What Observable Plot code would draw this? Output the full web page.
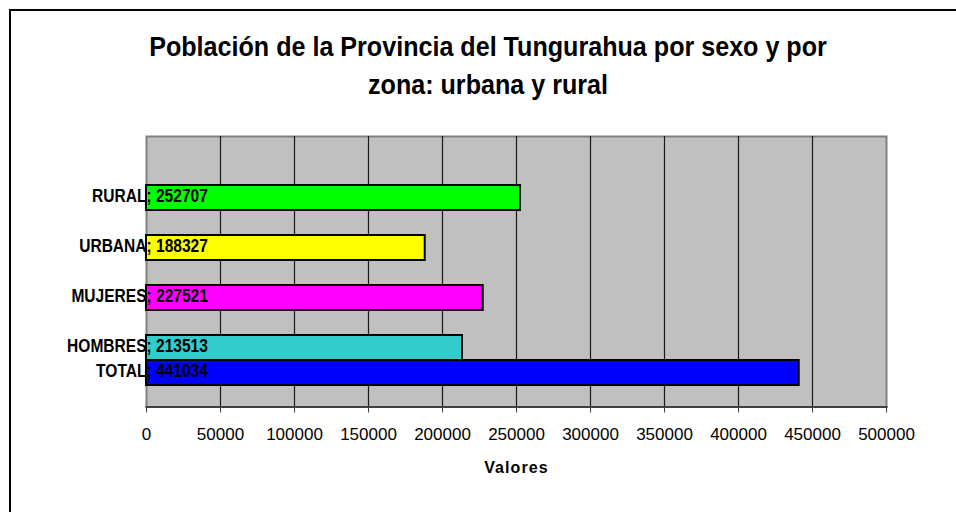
<!DOCTYPE html>
<html>
<head>
<meta charset="utf-8">
<script src="https://cdn.jsdelivr.net/npm/d3@7"></script>
<script src="https://cdn.jsdelivr.net/npm/@observablehq/plot@0.6"></script>
<style>
  html, body { margin: 0; padding: 0; background: #fff; }
  #wrap { position: relative; width: 956px; height: 512px; overflow: hidden; background: #fff; }
  #border { position: absolute; left: 9px; top: 9px; width: 1200px; height: 1200px;
            border-left: 2px solid #000; border-top: 2px solid #000; }
  #chart { position: absolute; left: 0; top: 0; }
  #title { position: absolute; left: 0; top: 28px; width: 976px; text-align: center;
           font-family: "Liberation Sans", Arial, sans-serif;
           font-weight: bold; font-size: 27px; line-height: 38px; color: #000;
           transform: scaleX(0.93); transform-origin: 488px 0; }
</style>
</head>
<body>
<div id="wrap">
  <div id="border"></div>
  <div id="chart"></div>
  <div id="title">Población de la Provincia del Tungurahua por sexo y por<br>zona: urbana y rural</div>
</div>
<script>
const categories = ["RURAL", "URBANA", "MUJERES", "HOMBRES", "TOTAL"];
const values = [252707, 188327, 227521, 213513, 441034];
const barColors = ["#00ff00", "#ffff00", "#ff00ff", "#33cccc", "#0000ff"];
const xTicks = [0, 50000, 100000, 150000, 200000, 250000, 300000, 350000, 400000, 450000, 500000];
const axisTitle = "Valores";

const data = categories.map((c, i) => ({cat: c, value: values[i], color: barColors[i]}));
// band slots: empty gaps between the first bars, none between HOMBRES and TOTAL
const slots = categories.flatMap((c, i) => i < 3 ? [c, "gap" + i] : [c]);

const font = "'Liberation Sans', Arial, sans-serif";
const condense = 0.84;

const chart = Plot.plot({
  width: 956,
  height: 512,
  marginLeft: 146,
  marginRight: 70,
  marginTop: 136,
  marginBottom: 105.5,
  style: {background: "transparent", fontFamily: font, color: "#000"},
  x: {domain: [0, 500000], axis: null},
  y: {domain: slots, padding: 0, range: [181.5, 389], axis: null},
  color: {type: "identity"},
  marks: [
    Plot.frame({fill: "#c0c0c0", stroke: "#808080", strokeWidth: 2}),
    Plot.gridX(xTicks.slice(1, -1), {stroke: "#1a1a1a", strokeOpacity: 1, strokeWidth: 1.2}),
    Plot.barX(data, {x: "value", y: "cat", fill: "color", stroke: "#000", strokeWidth: 2}),
    Plot.frame({anchor: "bottom", stroke: "#404040", strokeWidth: 2}),
    Plot.axisX(xTicks, {tickFormat: d3.format("d"), tickSize: 6, tickPadding: 15, fontSize: 17,
      stroke: "#404040", fill: "#000", label: null}),
    Plot.text(data, {x: 0, y: "cat", text: d => d.cat + "; " + d.value, textAnchor: "start", dy: -2,
      fontWeight: "bold", fontSize: 18.5, fill: "#000"}),
    Plot.text([axisTitle], {frameAnchor: "bottom", text: d => d, dy: 66,
      fontWeight: "bold", fontSize: 16, fill: "#000"})
  ]
});
document.getElementById("chart").appendChild(chart);

// condense the bold bar labels and shift each so the category name ends at the bar base
chart.querySelectorAll('g[aria-label="text"] text').forEach(t => {
  const s = t.textContent;
  if (s === axisTitle) {
    t.setAttribute("letter-spacing", "1.1");
    return;
  }
  const cat = categories.find(c => s.startsWith(c + ";"));
  const w = t.getComputedTextLength();
  const prefix = t.getSubStringLength(0, cat.length);
  t.setAttribute("textLength", (w * condense).toFixed(1));
  t.setAttribute("lengthAdjust", "spacingAndGlyphs");
  t.setAttribute("dx", (-prefix * condense).toFixed(1));
});
</script>
</body>
</html>
